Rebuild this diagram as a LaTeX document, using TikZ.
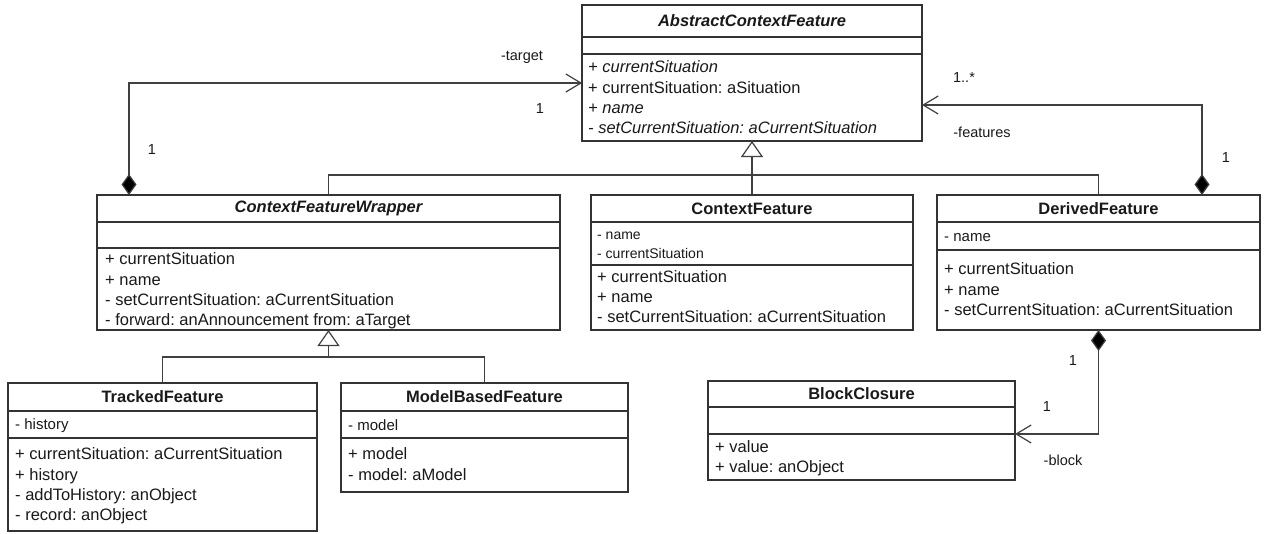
\documentclass[tikz,border=0pt]{standalone}
\usepackage{fontspec}
\setmainfont{Liberation Sans}
\usetikzlibrary{arrows.meta}
\frenchspacing
\newcommand\umlclass[8]{%
  \node[classbox, minimum width={#3pt-#2pt}, minimum height={#7pt-#4pt}] (#1) at (#2,#4) {};
  \draw[sepline] (#2,#5) -- (#3,#5);
  \draw[sepline] (#2,#6) -- (#3,#6);
  \node[ttl] (#1-title) at ({(#2+#3)/2},{(#4+#5)/2}) {#8};
}
\begin{document}
\begin{tikzpicture}[x=1pt,y=-1pt,
  classbox/.style={draw=black!80, line width=1.3pt, anchor=north west, inner sep=0pt, outer sep=0pt},
  sepline/.style={draw=black!80, line width=1.3pt},
  ttl/.style={font=\fontsize{16.5}{18}\selectfont\bfseries, inner sep=0pt, text=black!90},
  mth/.style={font=\fontsize{16.5}{18}\selectfont, anchor=base west, inner sep=0pt, text=black!90},
  att/.style={font=\fontsize{15}{17}\selectfont, anchor=base west, inner sep=0pt, text=black!90},
  attsm/.style={font=\fontsize{14}{16}\selectfont, anchor=base west, inner sep=0pt, text=black!90},
  lbl/.style={font=\fontsize{14.5}{16}\selectfont, inner sep=0pt, text=black!90},
  conn/.style={draw=black!75, line width=1.2pt},
  inherit/.style={conn, -{Triangle[open, length=16pt, width=22pt, fill=white]}},
  assoc/.style={conn, {Diamond[length=21pt, width=15pt, fill=black]}-{Straight Barb[length=15pt, width=18pt]}},
]
\useasboundingbox (0,0) rectangle (1266,533);

% ---------- classes ----------
\umlclass{acf}{582}{922}{5}{37}{54}{141}{\itshape AbstractContextFeature}
\node[mth] (acf-m1) at (588,72) {\itshape + currentSituation};
\node[mth] (acf-m2) at (588,93) {+ currentSituation: aSituation};
\node[mth] (acf-m3) at (588,113) {\itshape + name};
\node[mth] (acf-m4) at (588,133) {\itshape - setCurrentSituation: aCurrentSituation};

\umlclass{cfw}{97}{560}{195}{222}{248}{330}{\itshape ContextFeatureWrapper}
\node[mth] (cfw-m1) at (105,264) {+ currentSituation};
\node[mth] (cfw-m2) at (105,285) {+ name};
\node[mth] (cfw-m3) at (105,305) {- setCurrentSituation: aCurrentSituation};
\node[mth] (cfw-m4) at (105,325) {- forward: anAnnouncement from: aTarget};

\umlclass{cf}{591}{913}{195}{222}{265}{330}{ContextFeature}
\node[attsm] (cf-a1) at (597,239) {- name};
\node[attsm] (cf-a2) at (597,258) {- currentSituation};
\node[mth] (cf-m1) at (597,282) {+ currentSituation};
\node[mth] (cf-m2) at (597,302) {+ name};
\node[mth] (cf-m3) at (597,322) {- setCurrentSituation: aCurrentSituation};

\umlclass{df}{937}{1260}{195}{222}{250}{330}{DerivedFeature}
\node[att] (df-a1) at (944,241) {- name};
\node[mth] (df-m1) at (944,274) {+ currentSituation};
\node[mth] (df-m2) at (944,295) {+ name};
\node[mth] (df-m3) at (944,315) {- setCurrentSituation: aCurrentSituation};

\umlclass{tf}{8}{317}{383}{411}{438}{531}{TrackedFeature}
\node[att] (tf-a1) at (15,429) {- history};
\node[mth] (tf-m1) at (15,459) {+ currentSituation: aCurrentSituation};
\node[mth] (tf-m2) at (15,480) {+ history};
\node[mth] (tf-m3) at (15,500) {- addToHistory: anObject};
\node[mth] (tf-m4) at (15,520) {- record: anObject};

\umlclass{mbf}{341}{628}{383}{411}{438}{492}{ModelBasedFeature}
\node[att] (mbf-a1) at (348,430) {- model};
\node[mth] (mbf-m1) at (348,459) {+ model};
\node[mth] (mbf-m2) at (348,480) {- model: aModel};

\umlclass{bc}{708}{1015}{381}{407}{434}{480}{BlockClosure}
\node[mth] (bc-m1) at (715,452) {+ value};
\node[mth] (bc-m2) at (715,472) {+ value: anObject};

% ---------- generalizations ----------
\coordinate (j1) at (752,175);
\coordinate (j2) at (328.5,357);
\draw[inherit] (cf.north) -- (acf.south);
\draw[conn] (cfw.north) |- (j1) -| (df.north);
\draw[inherit] (j2) -- (cfw.south);
\draw[conn] (tf.north) |- (j2) -| (mbf.north);

% ---------- associations ----------
\coordinate (tb) at (129,83);
\draw[assoc] (cfw.north -| tb) -- (tb) -- (acf.west |- tb);
\coordinate (fb) at (1202,105);
\draw[assoc] (df.north -| fb) -- (fb) -- (acf.east |- fb);
\coordinate (bb) at (1098.5,434);
\draw[assoc] (df.south) -- (bb) -- (bc.east |- bb);

% ---------- labels ----------
\node[lbl] (l-target) at (522,57) {-target};
\node[lbl] (l-t1) at (540,109) {1};
\node[lbl] (l-t2) at (152,150) {1};
\node[lbl] (l-fmul) at (964,78) {1..*};
\node[lbl] (l-features) at (982,132) {-features};
\node[lbl] (l-f1) at (1226,158) {1};
\node[lbl] (l-b1) at (1073,361) {1};
\node[lbl] (l-b2) at (1047,407) {1};
\node[lbl] (l-block) at (1063,460) {-block};
\end{tikzpicture}
\end{document}
